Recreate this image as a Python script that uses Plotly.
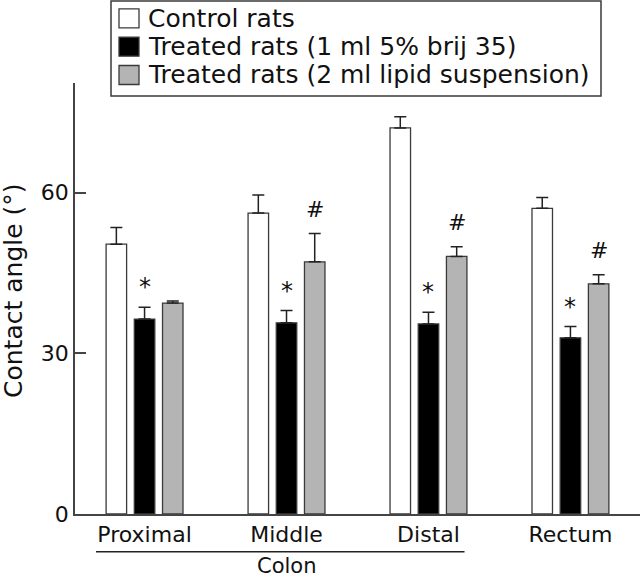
import plotly.graph_objects as go

# ---------------- data ----------------
categories = ["Proximal", "Middle", "Distal", "Rectum"]
series_names = ["Control rats",
                "Treated rats (1 ml 5% brij 35)",
                "Treated rats (2 ml lipid suspension)"]
control = [50.4, 56.2, 72.1, 57.1]
control_err = [3.1, 3.4, 2.1, 2.0]
brij = [36.4, 35.7, 35.5, 32.9]
brij_err = [2.2, 2.3, 2.2, 2.1]
lipid = [39.4, 47.1, 48.1, 43.0]
lipid_err = [0.4, 5.3, 1.8, 1.7]
brij_marks = ["*", "*", "*", "*"]
lipid_marks = ["", "#", "#", "#"]
y_ticks = [0, 30, 60]
group_label = "Colon"
y_title = "Contact angle (°)"

# ---------------- style ----------------
FONT = "DejaVu Sans"
W, H = 640, 579
ML, MR, MT, MB = 75, 0, 83, 65
fills = ["#ffffff", "#000000", "#b4b4b4"]
edge = "#3a3a3a"
bargap, bargroupgap = 0.404, 0.273

plot_w = W - ML - MR
plot_h = H - MT - MB


def px_x(px):
    return (px - ML) / plot_w


def px_y(py):
    return (H - MB - py) / plot_h


fig = go.Figure()
for vals, errs, name, col in zip([control, brij, lipid],
                                 [control_err, brij_err, lipid_err],
                                 series_names, fills):
    fig.add_trace(go.Bar(
        x=categories, y=vals, name=name, showlegend=False,
        marker=dict(color=col, line=dict(color=edge, width=1.3)),
        error_y=dict(type="data", array=errs, arrayminus=[0] * len(errs),
                     symmetric=False, color="#222222", thickness=1.5, width=6),
    ))

slot = (1 - bargap) / 3
for i, cat in enumerate(categories):
    if brij_marks[i]:
        fig.add_annotation(x=i, y=brij[i] + brij_err[i], xref="x", yref="y",
                           text=brij_marks[i], showarrow=False, yanchor="middle",
                           yshift=20, font=dict(family=FONT, size=24, color="#111"))
    if lipid_marks[i]:
        fig.add_annotation(x=i + slot, y=lipid[i] + lipid_err[i], xref="x", yref="y",
                           text=lipid_marks[i], showarrow=False, yanchor="middle",
                           yshift=24, font=dict(family=FONT, size=22, color="#111"))

# custom legend (box, swatches, labels)
fig.add_shape(type="rect", xref="paper", yref="paper",
              x0=px_x(111), x1=px_x(601), y0=px_y(96), y1=px_y(1),
              line=dict(color=edge, width=1.5), fillcolor="white", layer="above")
row_centers = [18.3, 46.7, 75.0]
for name, col, cy in zip(series_names, fills, row_centers):
    fig.add_shape(type="rect", xref="paper", yref="paper",
                  x0=px_x(119), x1=px_x(139), y0=px_y(cy + 9.5), y1=px_y(cy - 9.5),
                  line=dict(color=edge, width=1.3), fillcolor=col, layer="above")
    fig.add_annotation(x=px_x(146), y=px_y(cy), xref="paper", yref="paper",
                       text=name, showarrow=False, xanchor="left", yanchor="middle",
                       font=dict(family=FONT, size=25, color="#111"))

# Colon bracket
fig.add_shape(type="line", xref="x", yref="paper",
              x0=-0.342, x1=2.254, y0=px_y(551.7), y1=px_y(551.7),
              line=dict(color="#222", width=1.5))
fig.add_annotation(x=1, y=px_y(566), xref="x", yref="paper", text=group_label,
                   showarrow=False, yanchor="middle",
                   font=dict(family=FONT, size=21, color="#111"))

# y title
fig.add_annotation(x=px_x(13.5), y=px_y(290.5), xref="paper", yref="paper",
                   text=y_title, textangle=-90, showarrow=False,
                   xanchor="center", yanchor="middle",
                   font=dict(family=FONT, size=25, color="#111"))

fig.update_layout(
    width=W, height=H,
    margin=dict(l=ML, r=MR, t=MT, b=MB, pad=0),
    paper_bgcolor="white", plot_bgcolor="white",
    barmode="group", bargap=bargap, bargroupgap=bargroupgap,
    showlegend=False,
    font=dict(family=FONT, size=22, color="#111"),
)
fig.update_xaxes(range=[-0.49, 3.49], showline=True, linecolor="#444", linewidth=1.5,
                 ticks="", showgrid=False, zeroline=False, automargin=False,
                 tickfont=dict(family=FONT, size=22, color="#111"))
fig.update_yaxes(range=[0, 80.5], tickvals=y_ticks, showline=True, linecolor="#444",
                 linewidth=1.5, ticks="inside", ticklen=11, tickwidth=1.5,
                 tickcolor="#444", showgrid=False, zeroline=False, automargin=False,
                 tickfont=dict(family=FONT, size=22, color="#111"))

# remove the default 8px page margin so the figure sits at the window's corner
fig.write_html("out.html",
               config={"displayModeBar": False},
               post_script="document.body.style.margin='0';"
                           "document.body.style.overflow='hidden';")
